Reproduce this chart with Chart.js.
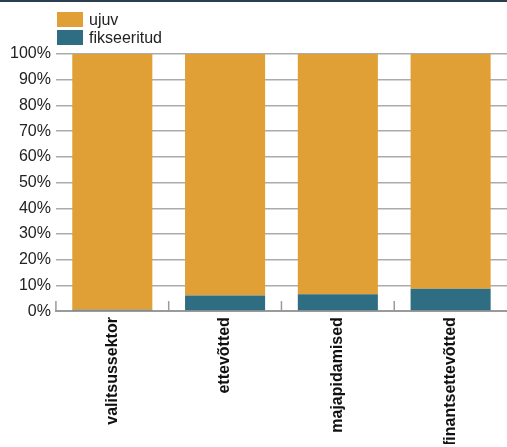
<!DOCTYPE html>
<html>
<head>
<meta charset="utf-8">
<script src="https://cdn.jsdelivr.net/npm/chart.js@4"></script>
<style>
    html, body { margin: 0; padding: 0; background: #fff; overflow: hidden; }
    body { width: 507px; height: 447px; position: relative; font-family: "Liberation Sans", Arial, sans-serif; }
    .topbar { position: absolute; left: 0; top: 0; width: 507px; height: 2px; background: #2b3e51; z-index: 2; }
    .legend { position: absolute; left: 57px; top: 12px; font-size: 16px; color: #222; }
    .legend div { display: flex; align-items: center; height: 15px; margin-bottom: 3px; }
    .legend span.box { display: inline-block; width: 26px; height: 15px; margin-right: 6px; }
    canvas { position: absolute; left: 0; top: 0; }
</style>
</head>
<body>
<div class="topbar"></div>
<canvas id="chart" width="507" height="444"></canvas>
<div class="legend" id="legend"></div>
<script>
    const categories = ['valitsussektor', 'ettevõtted', 'majapidamised', 'finantsettevõtted'];
    const fikseeritud = [0.5, 6.1, 6.6, 8.7];
    const ujuv = [99.5, 93.9, 93.4, 91.3];
    const yTicks = [0, 10, 20, 30, 40, 50, 60, 70, 80, 90, 100];

    const colors = { ujuv: '#e0a035', fikseeritud: '#2f6e82' };

    // legend (ujuv on top, like the original)
    const legend = document.getElementById('legend');
    [['ujuv', colors.ujuv], ['fikseeritud', colors.fikseeritud]].forEach(([name, c]) => {
        const row = document.createElement('div');
        row.innerHTML = '<span class="box" style="background:' + c + '"></span>' + name;
        legend.appendChild(row);
    });

    // short upward ticks between the categories, sitting on the x axis
    const categoryTicks = {
        id: 'categoryTicks',
        afterDatasetsDraw(chart) {
            const x = chart.scales.x;
            const area = chart.chartArea;
            const c = chart.ctx;
            const edges = [area.left];
            for (let i = 0; i < categories.length - 1; i++) {
                edges.push((x.getPixelForTick(i) + x.getPixelForTick(i + 1)) / 2);
            }
            c.save();
            c.strokeStyle = '#9a9a9a';
            c.lineWidth = 1.5;
            edges.forEach(px => {
                c.beginPath();
                c.moveTo(px, area.bottom);
                c.lineTo(px, area.bottom - 10);
                c.stroke();
            });
            c.restore();
        }
    };

    const ctx = document.getElementById('chart').getContext('2d');
    new Chart(ctx, {
        type: 'bar',
        data: {
            labels: categories,
            datasets: [
                {
                    label: 'fikseeritud',
                    data: fikseeritud,
                    backgroundColor: colors.fikseeritud,
                    borderWidth: 0
                },
                {
                    label: 'ujuv',
                    data: ujuv,
                    backgroundColor: colors.ujuv,
                    borderWidth: 0
                }
            ]
        },
        options: {
            responsive: false,
            animation: false,
            layout: { padding: { top: 54, right: 0, left: 5, bottom: 0 } },
            categoryPercentage: 1,
            barPercentage: 0.71,
            plugins: {
                legend: { display: false },
                tooltip: { enabled: false }
            },
            scales: {
                x: {
                    stacked: true,
                    offset: true,
                    border: { display: true, color: '#9a9a9a', width: 2 },
                    grid: { display: false },
                    ticks: {
                        minRotation: 90,
                        maxRotation: 90,
                        autoSkip: false,
                        padding: -2,
                        color: '#111',
                        font: { family: '"Liberation Sans", Arial, sans-serif', size: 16, weight: 'bold' }
                    }
                },
                y: {
                    stacked: true,
                    min: 0,
                    max: 100,
                    afterBuildTicks: (axis) => { axis.ticks = yTicks.map(v => ({ value: v })); },
                    border: { display: false },
                    grid: {
                        drawTicks: false,
                        color: '#ababab',
                        lineWidth: 1.5
                    },
                    ticks: {
                        padding: 5,
                        color: '#222',
                        callback: (v) => v + '%',
                        font: { family: '"Liberation Sans", Arial, sans-serif', size: 16 }
                    }
                }
            }
        },
        plugins: [categoryTicks]
    });
</script>
</body>
</html>
